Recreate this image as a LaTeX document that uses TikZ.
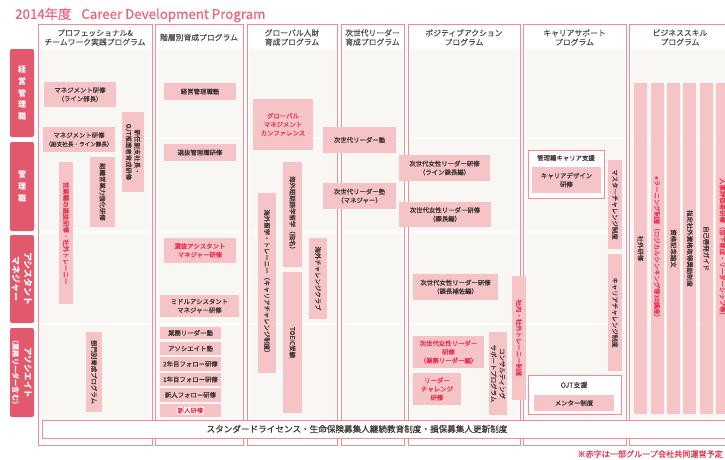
\documentclass[tikz,border=0pt]{standalone}
\usepackage{fontspec}
\setmainfont{Noto Sans CJK JP}
\newfontfamily\jpm[FakeBold=0.4]{Noto Sans CJK JP}
\definecolor{framec}{RGB}{240,140,150}
\definecolor{labc}{RGB}{226,88,108}
\definecolor{boxc}{RGB}{246,196,198}
\definecolor{creamc}{RGB}{248,247,243}
\definecolor{redc}{RGB}{232,48,80}
\definecolor{txtc}{RGB}{60,52,52}
\definecolor{hdrc}{RGB}{80,74,74}
\definecolor{titlec}{RGB}{236,100,120}
\newcommand\pb[7][]{\node[pbox,minimum width={#5-#3},minimum height={#6-#4},#1] (#2) at ({(#3+#5)/2},{(#4+#6)/2}) {#7};}
\newcommand\pv[7][]{\node[pbox,rotate=-90,minimum width={#6-#4},minimum height={#5-#3},#1] (#2) at ({(#3+#5)/2},{(#4+#6)/2}) {#7};}
\begin{document}
\begin{tikzpicture}[x=1pt,y=-1pt,
  pbox/.style={fill=boxc,inner sep=0pt,align=center,text=txtc,font=\jpm\fontsize{6.4}{8.6}\selectfont},
  redt/.style={text=redc},
  lab/.style={fill=labc,rounded corners=2pt,text=white,align=center,inner sep=0pt},
  hdr/.style={text=hdrc,align=center,inner sep=0pt,font=\jpm\fontsize{7.8}{9.2}\selectfont},
  framebox/.style={draw=framec,line width=0.9pt},
  subframe/.style={draw=framec,fill=white,line width=0.9pt}]
\clip (0,0) rectangle (725,459);
\fill[white] (0,0) rectangle (725,459);
% title
\node[anchor=west,text=titlec,inner sep=0pt,font=\jpm\fontsize{13.3}{15}\selectfont] (title) at (15,15) {2014年度\hspace{10pt}Career Development Program};
% column frames
\foreach \a/\b in {38/152,155/243,247/337,341/404,408/520,523/626,629/731}{
  \fill[white] (\a,24) rectangle (\b,445);
  \fill[creamc] (\a+1.5,49) rectangle (\b-1.5,420);
}
\foreach \y in {138,232,324} \draw[white,line width=2pt] (38,\y) -- (731,\y);
\foreach \a/\b in {38/152,155/243,247/337,341/404,408/520,523/626,629/731}{
  \draw[framebox] (\a,24) rectangle (\b,445);
}
% headers
\node[hdr] (h1) at (95,37.5) {プロフェッショナル\&\\チームワーク実践プログラム};
\node[hdr] (h2) at (199,37.5) {階層別育成プログラム};
\node[hdr] (h3) at (292,37.5) {グローバル人財\\育成プログラム};
\node[hdr] (h4) at (372.5,37.5) {次世代リーダー\\育成プログラム};
\node[hdr] (h5) at (464,37.5) {ポジティブアクション\\プログラム};
\node[hdr] (h6) at (574.5,37.5) {キャリアサポート\\プログラム};
\node[hdr] (h7) at (680,37.5) {ビジネススキル\\プログラム};
% row labels
\node[lab,minimum width=24,minimum height=88,font=\bfseries\fontsize{8}{11.7}\selectfont] (l1) at (22,93) {経\\営\\管\\理\\職};
\node[lab,minimum width=24,minimum height=89,font=\bfseries\fontsize{8}{11.7}\selectfont] (l2) at (22,186.5) {管\\理\\職};
\node[lab,rotate=-90,minimum width=88,minimum height=24,font=\bfseries\fontsize{9}{12}\selectfont] (l3) at (22,279) {アシスタント\\マネジャー};
\node[lab,rotate=-90,minimum width=89,minimum height=24,font=\bfseries\fontsize{8.5}{12}\selectfont] (l4) at (22,372.5) {アソシエイト\\{\fontsize{7.2}{8}\selectfont（業務リーダー含む）}};
% column 1
\pb{a1}{44}{82}{116}{107}{マネジメント研修\\（ライン部長）}
\pb{a2}{43}{127}{115}{152}{マネジメント研修\\{\fontsize{5.6}{7}\selectfont（副支社長・ライン課長）}}
\pv{a3}{122}{112}{144}{192}{新任副支社長・\\OJT推進者育成研修}
\pv{a4}{90}{157}{115}{227}{組織営業力強化研修}
\pv[redt]{a5}{59}{162}{73}{304}{営業職の選抜研修・社外トレーニー}
\pv{a6}{86}{332}{102}{412}{部門別育成プログラム}
% column 2
\pb{b1}{164}{83}{236}{100}{経営管理職塾}
\pb{b2}{164}{144}{236}{161}{選抜管理職研修}
\pb[redt]{b3}{164}{238}{236}{263}{選抜アシスタント\\マネジャー研修}
\pb{b4}{160}{295}{239}{317}{ミドルアシスタント\\マネジャー研修}
\pb{b5}{160}{327}{221}{339}{業務リーダー塾}
\pb{b6}{160}{342}{221}{355}{アソシエイト塾}
\pb{b7}{160}{357}{221}{371}{2年目フォロー研修}
\pb{b8}{160}{373}{221}{386}{1年目フォロー研修}
\pb{b9}{160}{388}{221}{402}{新人フォロー研修}
\pb{b10}{160}{404}{221}{417}{}
\node[fill=white,rounded corners=1pt,text=redc,inner sep=0.8pt,font=\jpm\fontsize{6.4}{7}\selectfont] (b10t) at (b10) {新人研修};
% column 3
\pb[redt]{c1}{253}{99}{313}{150}{グローバル\\マネジメント\\カンファレンス}
\pv{c2}{283}{162}{302}{267}{海外短期語学留学（指名）}
\pv{c3}{258}{193}{276}{373}{海外留学・トレーニー（キャリアチャレンジ制度）}
\pv{c4}{283}{272}{302}{413}{TOEIC受験}
\pv{c5}{309}{238}{327}{319}{海外チャレンジクラブ}
% column 4
\pb{d1}{323}{127}{396}{153}{次世代リーダー塾}
\pb{d2}{323}{183}{396}{209}{次世代リーダー塾\\（マネジャー）}
% column 5
\pb{e1}{399}{155}{490}{181}{次世代女性リーダー研修\\（ライン課長編）}
\pb{e2}{399}{202}{491}{227}{次世代女性リーダー研修\\（課長編）}
\pb{e3}{413}{274}{498}{300}{次世代女性リーダー研修\\（課長補佐編）}
\pb[redt]{e4}{413}{336}{484}{368}{次世代女性リーダー\\研修\\（業務リーダー編）}
\pb[redt]{e5}{413}{373}{461}{405}{リーダー\\チャレンジ\\研修}
\pv{e6}{489}{332}{507}{415}{コンサルティング\\サポートプログラム}
\pv[redt]{e7}{512}{276}{526}{400}{社内・社外トレーニー制度}
% column 6
\draw[subframe] (528,150) rectangle (604,198);
\node[text=txtc,inner sep=0pt,font=\jpm\fontsize{6.4}{7}\selectfont] (f0) at (566,158) {管理職キャリア支援};
\pb{f1}{532}{167}{601}{193}{キャリアデザイン\\研修}
\pv{f2}{608}{160}{622}{249}{マスターチャレンジ制度}
\pv{f3}{608}{254}{622}{371}{キャリアチャレンジ制度}
\draw[subframe] (528,375) rectangle (621,414);
\node[text=txtc,inner sep=0pt,font=\jpm\fontsize{7}{8}\selectfont] (g0) at (574,385) {OJT支援};
\pb{g1}{534}{395}{614}{411}{メンター制度}
% column 7
\pv{k1}{634}{83}{647}{414}{社外研修}
\pv[redt]{k2}{650.5}{83}{663.5}{414}{eラーニング制度（ロジカルシンキング等30講座）}
\pv{k3}{667}{83}{680}{414}{資格記念論文}
\pv{k4}{683.3}{83}{696.3}{414}{指定社外資格取得奨励制度}
\pv{k5}{699.7}{83}{712.7}{414}{自己啓発ガイド}
\pv[redt]{k6}{716}{83}{729}{414}{人事評価者研修（部下育成・リーダーシップ等）}
% bottom bar
\draw[subframe] (42,420) rectangle (740,438);
\node[text=txtc,inner sep=0pt,font=\jpm\fontsize{8.6}{9}\selectfont] (std) at (357,429) {スタンダードライセンス・生命保険募集人継続教育制度・損保募集人更新制度};
% footnote
\node[anchor=east,text=redc,inner sep=0pt,font=\jpm\fontsize{8.1}{9}\selectfont] (note) at (723,454) {※赤字は一部グループ会社共同運営予定};
\end{tikzpicture}
\end{document}
